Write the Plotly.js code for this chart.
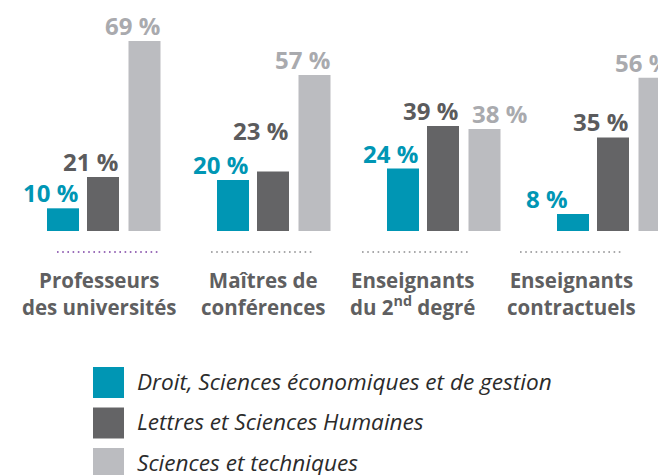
<!DOCTYPE html>
<html><head><meta charset="utf-8">
<script src="https://cdn.plot.ly/plotly-3.0.1.min.js"></script>
<style>html,body{margin:0;padding:0;background:#fff;}#chart{width:658px;height:475px;}</style>
</head><body><div id="chart"></div>
<script>
// ---- data ----
const categories = ["Professeurs des universités", "Maîtres de conférences", "Enseignants du 2nd degré", "Enseignants contractuels"];
const categoryLabels = ["Professeurs<br>des universités", "Maîtres de<br>conférences", "Enseignants<br>du 2<sup>nd</sup> degré", "Enseignants<br>contractuels"];
const seriesNames = ["Droit, Sciences économiques et de gestion", "Lettres et Sciences Humaines", "Sciences et techniques"];
const droit = [10, 20, 24, 8];
const lettres = [21, 23, 39, 35];
const sciences = [69, 57, 38, 56];

// ---- styles / layout ----
const W = 658, H = 475, plotH = 231;
const unit = 170;                 // px per category step
const firstCenterPx = 103;
const barColors = ['#0096b4', '#646466', '#bbbcc0'];
const labelColors = ['#0096b4', '#5b5b5d', '#a9aaae'];
const barOffsetPx = [-56, -16, 25.5];
const barWidthPx = 32;
// label pixel nudges [category][series]
const labelDx = [[0,0,0],[0,0,0],[0,0,27],[-20,0,0]];
const labelDy = [[0,0,0],[0,25,0],[0,0,0],[0,0,0]];
const catLabelShift = [-4, -10, -31, -42];
const dotSpan = [[-46,55],[-62,41],[-81,25],[-93,10]];
const dotColors = ['#7b3fa3', '#8c8c8e', '#8c8c8e', '#8c8c8e'];

const series = [droit, lettres, sciences];
const px2u = p => p / unit;
const pyPaper = py => (plotH - py) / plotH;

const traces = series.map((vals, s) => ({
  type: 'bar',
  name: seriesNames[s],
  x: categories,
  y: vals,
  offset: px2u(barOffsetPx[s]),
  width: px2u(barWidthPx),
  marker: {color: barColors[s], line: {width: 0}},
  showlegend: false,
  hoverinfo: 'skip'
}));

const annotations = [];
const shapes = [];
series.forEach((vals, s) => {
  vals.forEach((v, i) => {
    annotations.push({
      xref: 'x', yref: 'y',
      x: i + px2u(barOffsetPx[s]), y: v,
      xanchor: 'right', yanchor: 'bottom',
      xshift: barWidthPx + 1 + labelDx[i][s], yshift: -3 + labelDy[i][s],
      text: v + ' %', showarrow: false,
      font: {family: 'Open Sans', size: 24, color: labelColors[s], weight: 700}
    });
  });
});
categoryLabels.forEach((t, i) => {
  annotations.push({
    xref: 'x', yref: 'paper', x: i, xshift: catLabelShift[i],
    y: pyPaper(264), yanchor: 'top', xanchor: 'center',
    text: t, showarrow: false, align: 'center',
    font: {family: 'Open Sans', size: 20.5, color: '#5f5f61', weight: 700}
  });
  shapes.push({
    type: 'line', xref: 'x', yref: 'paper',
    x0: i + px2u(dotSpan[i][0]), x1: i + px2u(dotSpan[i][1]),
    y0: pyPaper(252), y1: pyPaper(252),
    line: {color: dotColors[i], width: 1.6, dash: '1.6px,3.6px'}
  });
});
// legend
seriesNames.forEach((n, s) => {
  const top = 367 + s * 40.5;
  shapes.push({
    type: 'rect', xref: 'paper', yref: 'paper',
    x0: 93 / W, x1: 124 / W, y0: pyPaper(top), y1: pyPaper(top + 31),
    fillcolor: barColors[s], line: {width: 0}
  });
  annotations.push({
    xref: 'paper', yref: 'paper', x: 135 / W, y: pyPaper(top + 14),
    xanchor: 'left', yanchor: 'middle', showarrow: false, text: n,
    font: {family: 'Open Sans', size: 22.6, color: '#2b2b2b', style: 'italic'}
  });
});

const layout = {
  width: W, height: H,
  margin: {l: 0, r: 0, t: 0, b: H - plotH, pad: 0},
  paper_bgcolor: '#ffffff', plot_bgcolor: '#ffffff',
  barmode: 'overlay',
  xaxis: {type: 'category', range: [-firstCenterPx / unit, (W - firstCenterPx) / unit],
          showgrid: false, zeroline: false, showline: false, showticklabels: false, ticks: '', fixedrange: true},
  yaxis: {range: [2.0, 2.0 + plotH / 2.836], showgrid: false, zeroline: false, showline: false,
          showticklabels: false, ticks: '', fixedrange: true},
  annotations: annotations,
  shapes: shapes,
  showlegend: false
};
Plotly.newPlot('chart', traces, layout, {displayModeBar: false, staticPlot: true});
</script></body></html>
